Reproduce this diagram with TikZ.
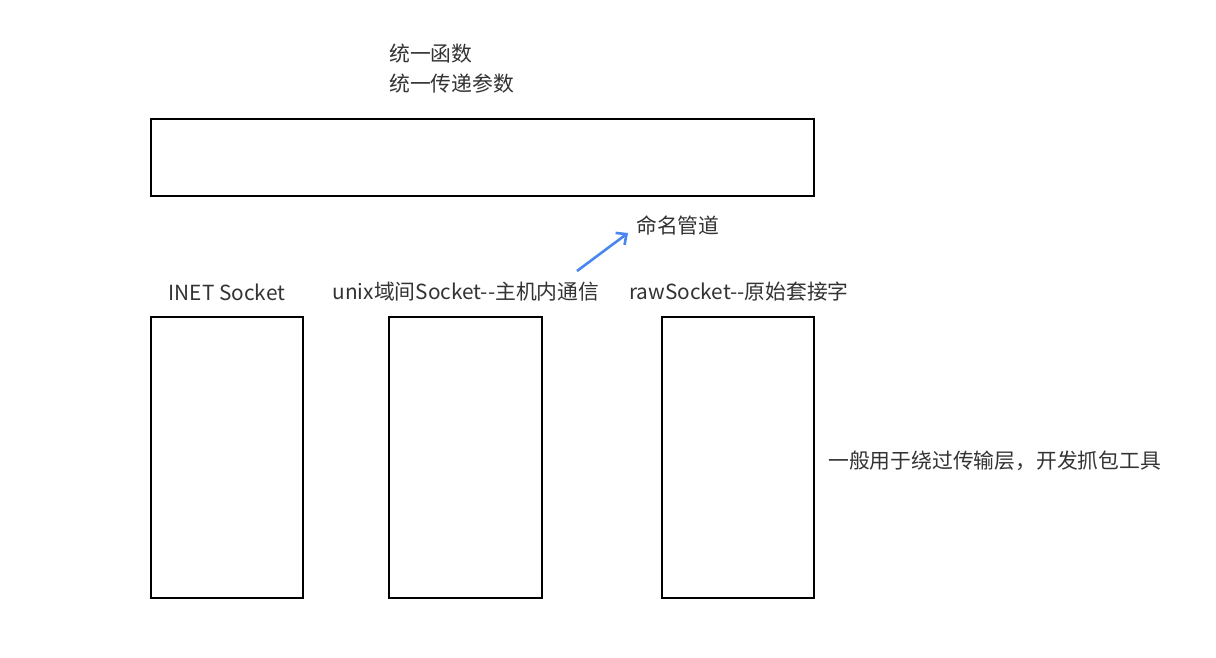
\documentclass[tikz,border=0pt]{standalone}
\usepackage{fontspec}
\setmainfont{Noto Sans CJK SC}
\usetikzlibrary{arrows.meta}
\begin{document}
\begin{tikzpicture}[x=1pt,y=-1pt,
  box/.style={draw=black,line width=2.8pt},
  lbl/.style={inner sep=0pt,text=black!80,font=\fontsize{20.8}{24}\selectfont},
  arr/.style={draw={rgb,255:red,74;green,134;blue,240},line width=2.6pt,-{Straight Barb[length=8pt,width=15pt]}}]
\useasboundingbox[fill=white] (0,0) rectangle (1216,658);
\draw[box] (151,119) rectangle (814,196);
\draw[box] (151,317) rectangle (303,598);
\draw[box] (389,317) rectangle (542,598);
\draw[box] (662,317) rectangle (814,598);
\node[lbl,anchor=west] (t1) at (389,54) {统一函数};
\node[lbl,anchor=west] (t2) at (389,84) {统一传递参数};
\node[lbl] (inet) at (227,292) {INET Socket};
\node[lbl] (unix) at (466,292) {unix域间Socket{-}{-}主机内通信};
\node[lbl] (raw) at (739,292) {rawSocket{-}{-}原始套接字};
\node[lbl,anchor=west] (pipe) at (636,225) {命名管道};
\node[lbl,anchor=west] (note) at (828,461) {一般用于绕过传输层，开发抓包工具};
\coordinate (a0) at (577,271);
\coordinate (a1) at (628,233);
\draw[arr] (a0) -- (a1);
\end{tikzpicture}
\end{document}
